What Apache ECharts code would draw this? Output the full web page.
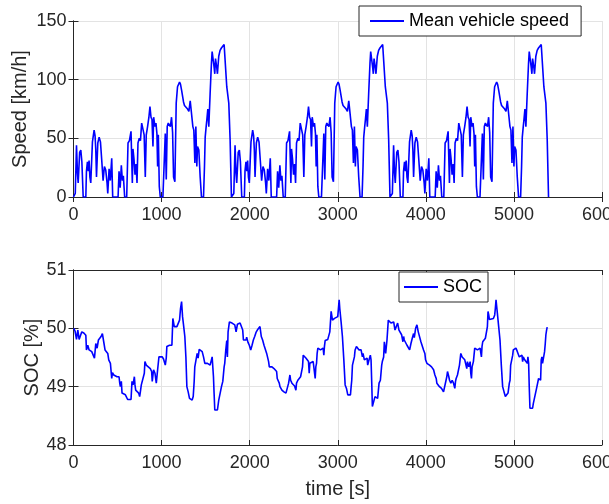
<!DOCTYPE html>
<html>
<head>
<meta charset="utf-8">
<script src="https://cdn.jsdelivr.net/npm/echarts@6/dist/echarts.min.js"></script>
<style>
html,body{margin:0;padding:0;background:#fff;}
#chart{width:609px;height:504px;}
</style>
</head>
<body>
<div id="chart"></div>
<script>
// ---- Data ----
const xTicks = [0, 1000, 2000, 3000, 4000, 5000, 6000];
const speedTicks = [0, 50, 100, 150];
const socTicks = [48, 49, 50, 51];

// Mean vehicle speed [km/h] : time [s]
const speedTime = [
0,20,34,45,53,70,83,95,110,140,147,158,168,177,186,196,215,234,245,253,261,276,291,306,320,336,351,366,381,389,404,418,434,445,506,517,530,543,555,566,581,604,619,635,653,668,675,687,698,710,721,732,747,760,774,789,802,815,826,841,856,868,880,891,902,910,925,936,947,955,963,974,985,1015,1042,1053,1064,1076,1090,1100,1113,1125,1136,1151,1166,1181,1204,1215,1227,1249,1260,1272,1295,1310,1325,1340,1355,1366,1378,1389,1400,1408,1423,1438,1453,1476,1487,1495,1506,1514,1525,1536,1551,1566,1574,1589,1597,1604,1612,1619,1627,1634,1649,1664,1679,1695,1710,1725,1740,1763,1778,1793,
1800,1820,1834,1845,1853,1870,1883,1895,1910,1940,1947,1958,1968,1977,1986,1996,2015,2034,2045,2053,2061,2076,2091,2106,2120,2136,2151,2166,2181,2189,2204,2218,2234,2245,2306,2317,2330,2343,2355,2366,2381,2404,2419,2435,2453,2468,2475,2487,2498,2510,2521,2532,2547,2560,2574,2589,2602,2615,2626,2641,2656,2668,2680,2691,2702,2710,2725,2736,2747,2755,2763,2774,2785,2815,2842,2853,2864,2876,2890,2900,2913,2925,2936,2951,2966,2981,3004,3015,3027,3049,3060,3072,3095,3110,3125,3140,3155,3166,3178,3189,3200,3208,3223,3238,3253,3276,3287,3295,3306,3314,3325,3336,3351,3366,3374,3389,3397,3404,3412,3419,3427,3434,3449,3464,3479,3495,3510,3525,3540,3563,3578,3593,
3600,3620,3634,3645,3653,3670,3683,3695,3710,3740,3747,3758,3768,3777,3786,3796,3815,3834,3845,3853,3861,3876,3891,3906,3920,3936,3951,3966,3981,3989,4004,4018,4034,4045,4106,4117,4130,4143,4155,4166,4181,4204,4219,4235,4253,4268,4275,4287,4298,4310,4321,4332,4347,4360,4374,4389,4402,4415,4426,4441,4456,4468,4480,4491,4502,4510,4525,4536,4547,4555,4563,4574,4585,4615,4642,4653,4664,4676,4690,4700,4713,4725,4736,4751,4766,4781,4804,4815,4827,4849,4860,4872,4895,4910,4925,4940,4955,4966,4978,4989,5000,5008,5023,5038,5053,5076,5087,5095,5106,5114,5125,5136,5151,5166,5174,5189,5197,5204,5212,5219,5227,5234,5249,5264,5279,5295,5310,5325,5340,5363,5378,5393
];
const speedValue = [
0,3,44,20,12,38,40,30,0,0,22,30,22,31,17,12,47,57,52,40,17,46,51,47,32,14,26,23,12,3,24,14,33,0,0,22,8,27,14,18,0,0,46,48,56,12,41,32,19,28,12,46,50,48,63,64,53,17,53,60,68,77,68,66,43,68,60,63,54,26,53,9,0,0,54,15,60,63,62,60,68,55,17,13,80,94,98,96,91,81,78,77,75,73,82,82,60,57,29,60,26,43,40,17,0,0,26,51,60,66,75,60,88,114,124,115,110,105,118,117,110,105,120,125,127,128,130,131,94,80,49,0,
0,3,44,20,12,38,40,30,0,0,22,30,22,31,17,12,47,57,52,40,17,46,51,47,32,14,26,23,12,3,24,14,33,0,0,22,8,27,14,18,0,0,46,48,56,12,41,32,19,28,12,46,50,48,63,64,53,17,53,60,68,77,68,66,43,68,60,63,54,26,53,9,0,0,54,15,60,63,62,60,68,55,17,13,80,94,98,96,91,81,78,77,75,73,82,82,60,57,29,60,26,43,40,17,0,0,26,51,60,66,75,60,88,114,124,115,110,105,118,117,110,105,120,125,127,128,130,131,94,80,49,0,
0,3,44,20,12,38,40,30,0,0,22,30,22,31,17,12,47,57,52,40,17,46,51,47,32,14,26,23,12,3,24,14,33,0,0,22,8,27,14,18,0,0,46,48,56,12,41,32,19,28,12,46,50,48,63,64,53,17,53,60,68,77,68,66,43,68,60,63,54,26,53,9,0,0,54,15,60,63,62,60,68,55,17,13,80,94,98,96,91,81,78,77,75,73,82,82,60,57,29,60,26,43,40,17,0,0,26,51,60,66,75,60,88,114,124,115,110,105,118,117,110,105,120,125,127,128,130,131,94,80,49,0
];

// SOC [%] : [time s, soc]
const socPoints = [
[4,50.0],[18,49.95],[34,49.81],[49,49.97],[64,49.81],[79,49.81],[94,49.94],[117,49.92],[140,49.88],[147,49.63],[162,49.71],[177,49.63],[192,49.66],[207,49.6],[223,49.57],[238,49.49],[253,49.74],[268,49.66],[283,49.8],[298,49.83],[313,49.86],[328,49.91],[343,49.77],[358,49.63],[374,49.6],[389,49.57],[400,49.46],[419,49.4],[434,49.14],[442,49.24],[457,49.2],[494,49.17],[517,49.17],[525,49.06],[532,49.0],[543,49.09],[551,48.89],[570,48.88],[589,48.86],[608,48.83],[615,48.78],[630,48.77],[653,48.78],[664,49.09],[676,49.03],[691,49.17],[698,49.03],[706,48.94],[721,48.91],[740,48.89],[751,48.83],[759,48.91],[770,49.03],[789,49.0],[804,49.23],[811,49.43],[826,49.37],[849,49.34],[872,49.31],[887,49.26],[894,49.09],[909,49.29],[925,49.23],[940,49.06],[955,49.29],[962,49.31],[970,49.51],[985,49.54],[1008,49.51],[1023,49.47],[1042,49.37],[1053,49.49],[1060,49.69],[1076,49.66],[1090,49.71],[1106,49.69],[1117,49.71],[1128,50.17],[1136,50.14],[1144,50.03],[1159,50.04],[1174,50.03],[1189,50.06],[1204,50.14],[1215,50.34],[1227,50.46],[1238,50.2],[1249,50.06],[1264,49.86],[1276,49.51],[1287,49.0],[1302,48.91],[1317,48.8],[1332,48.8],[1347,48.77],[1359,48.83],[1370,49.09],[1377,49.34],[1393,49.33],[1404,49.57],[1415,49.49],[1427,49.64],[1446,49.63],[1461,49.6],[1476,49.51],[1491,49.4],[1506,49.43],[1521,49.4],[1536,49.4],[1551,49.37],[1566,49.46],[1574,49.51],[1581,49.49],[1589,49.17],[1596,48.89],[1604,48.6],[1619,48.63],[1634,48.6],[1649,48.77],[1665,48.77],[1680,49.0],[1695,49.09],[1710,49.34],[1717,49.4],[1729,49.63],[1740,49.79],[1747,49.51],[1755,49.94],[1770,50.11],[1785,50.1],[1800,50.09],
[1815,50.11],[1831,50.06],[1846,49.94],[1861,50.07],[1876,50.04],[1891,50.09],[1906,50.07],[1921,49.97],[1929,49.8],[1944,49.83],[1959,49.8],[1966,49.85],[1981,49.76],[1996,49.71],[2012,49.63],[2027,49.71],[2042,49.8],[2057,49.86],[2072,49.93],[2087,49.97],[2102,50.0],[2117,50.03],[2132,49.86],[2147,49.8],[2163,49.71],[2178,49.69],[2193,49.57],[2208,49.54],[2215,49.43],[2223,49.34],[2238,49.37],[2253,49.34],[2276,49.31],[2291,49.29],[2306,49.26],[2313,49.14],[2329,49.11],[2336,49.06],[2344,49.0],[2366,48.94],[2389,48.91],[2412,48.89],[2434,48.9],[2442,49.06],[2457,49.2],[2465,49.11],[2472,49.14],[2480,49.06],[2495,49.03],[2510,49.01],[2525,48.94],[2532,49.06],[2547,49.11],[2563,49.14],[2578,49.17],[2585,49.2],[2593,49.17],[2600,49.34],[2608,49.54],[2623,49.51],[2638,49.49],[2653,49.46],[2668,49.43],[2676,49.23],[2683,49.4],[2698,49.37],[2721,49.43],[2736,49.4],[2744,49.14],[2751,49.34],[2759,49.4],[2766,49.57],[2774,49.66],[2789,49.66],[2804,49.63],[2819,49.63],[2834,49.66],[2842,49.54],[2849,49.69],[2857,49.79],[2872,49.8],[2887,49.81],[2895,49.83],[2910,49.94],[2925,50.29],[2940,50.14],[2963,50.17],[2985,50.17],[3000,50.2],[3016,50.49],[3023,50.34],[3038,50.11],[3053,49.86],[3069,49.46],[3084,49.03],[3099,48.97],[3114,48.86],[3129,48.83],[3144,48.86],[3152,49.0],[3159,49.11],[3167,49.37],[3182,49.4],[3189,49.51],[3197,49.63],[3212,49.69],[3227,49.66],[3242,49.63],[3265,49.63],[3280,49.51],[3287,49.57],[3302,49.46],[3317,49.46],[3333,49.49],[3340,49.37],[3355,49.46],[3370,49.54],[3378,49.46],[3386,49.06],[3393,48.66],[3408,48.66],[3423,48.83],[3438,48.83],[3453,48.8],[3469,49.06],[3484,49.11],[3499,49.37],[3506,49.43],[3521,49.51],[3529,49.77],[3544,49.57],[3559,49.8],[3574,50.14],[3589,50.11],[3604,50.09],
[3620,50.11],[3635,50.11],[3650,49.97],[3665,49.94],[3680,50.09],[3695,49.97],[3710,49.94],[3725,49.89],[3740,49.77],[3748,49.86],[3755,49.8],[3770,49.77],[3786,49.71],[3801,49.69],[3816,49.63],[3831,49.74],[3846,49.83],[3861,49.91],[3869,49.84],[3884,50.0],[3899,50.06],[3914,49.94],[3929,49.91],[3944,49.77],[3959,49.74],[3974,49.63],[3989,49.57],[3997,49.46],[4012,49.4],[4020,49.37],[4042,49.37],[4065,49.34],[4088,49.29],[4103,49.2],[4118,49.14],[4125,49.06],[4140,49.03],[4155,49.0],[4178,48.97],[4201,48.91],[4223,48.94],[4238,49.17],[4246,49.26],[4261,49.17],[4269,49.11],[4284,49.06],[4299,49.11],[4314,49.06],[4329,48.97],[4337,49.09],[4344,49.14],[4359,49.2],[4374,49.23],[4382,49.37],[4397,49.57],[4412,49.51],[4427,49.49],[4442,49.46],[4457,49.43],[4465,49.31],[4472,49.43],[4488,49.34],[4503,49.43],[4510,49.23],[4518,49.14],[4525,49.34],[4540,49.43],[4555,49.66],[4570,49.69],[4586,49.63],[4601,49.63],[4616,49.66],[4631,49.51],[4638,49.69],[4646,49.77],[4661,49.8],[4676,49.83],[4691,49.83],[4699,50.03],[4706,50.29],[4714,50.23],[4722,50.15],[4744,50.17],[4767,50.17],[4782,50.23],[4789,50.34],[4797,50.49],[4812,50.26],[4827,50.03],[4842,49.8],[4857,49.37],[4872,49.0],[4888,48.91],[4903,48.83],[4918,48.83],[4933,48.89],[4948,49.06],[4956,49.11],[4963,49.37],[4978,49.4],[4986,49.54],[4993,49.63],[5008,49.66],[5023,49.66],[5039,49.6],[5046,49.63],[5061,49.51],[5076,49.49],[5091,49.54],[5099,49.43],[5106,49.51],[5122,49.46],[5137,49.43],[5152,49.4],[5159,49.51],[5167,49.4],[5174,49.0],[5182,48.63],[5197,48.6],[5212,48.63],[5220,48.71],[5235,48.74],[5242,48.74],[5257,48.97],[5272,49.0],[5280,49.14],[5295,49.14],[5303,49.11],[5310,49.46],[5318,49.51],[5325,49.4],[5340,49.43],[5348,49.6],[5356,49.74],[5363,49.89],[5371,49.97],[5378,50.02]
];

// ---- Chart ----
const FONT = '"Liberation Sans", Arial, Helvetica, sans-serif';
const AX = '#262626';
const GRIDC = '#e3e3e3';
const LINE_BLUE = '#0000ff';
const chart = echarts.init(document.getElementById('chart'), null, {renderer: 'canvas'});
const plain = v => String(v);

function xAxisMain(gi, showName) {
  return {
    type: 'value', gridIndex: gi, position: 'bottom',
    min: xTicks[0], max: xTicks[xTicks.length - 1], interval: xTicks[1] - xTicks[0],
    axisLine: {show: true, lineStyle: {color: AX, width: 1}},
    axisTick: {show: true, inside: true, length: 5, lineStyle: {color: AX}},
    axisLabel: {color: AX, fontSize: 18, fontFamily: FONT, margin: 9, formatter: plain,
                align: 'center',
                showMaxLabel: true, showMinLabel: true, hideOverlap: false,
                alignMinLabel: 'center', alignMaxLabel: 'center'},
    splitLine: {show: true, lineStyle: {color: GRIDC, width: 1}},
    name: showName ? 'time [s]' : '', nameLocation: 'middle', nameGap: 34, nameMoveOverlap: false,
    nameTextStyle: {color: AX, fontSize: 20, fontFamily: FONT}
  };
}
function xAxisTop(gi) {
  return {
    type: 'value', gridIndex: gi, position: 'top',
    min: xTicks[0], max: xTicks[xTicks.length - 1], interval: xTicks[1] - xTicks[0],
    axisLine: {show: true, lineStyle: {color: AX, width: 1}},
    axisTick: {show: true, inside: true, length: 5, lineStyle: {color: AX}},
    axisLabel: {show: false}, splitLine: {show: false}
  };
}
function yAxisMain(gi, ticks, name, gap) {
  return {
    type: 'value', gridIndex: gi, position: 'left',
    min: ticks[0], max: ticks[ticks.length - 1], interval: ticks[1] - ticks[0],
    axisLine: {show: true, lineStyle: {color: AX, width: 1}},
    axisTick: {show: true, inside: true, length: 5, lineStyle: {color: AX}},
    axisLabel: {color: AX, fontSize: 18, fontFamily: FONT, margin: 7, formatter: plain},
    splitLine: {show: true, lineStyle: {color: GRIDC, width: 1}},
    name: name, nameLocation: 'middle', nameGap: gap, nameRotate: 90, nameMoveOverlap: false,
    nameTextStyle: {color: AX, fontSize: 20, fontFamily: FONT}
  };
}
function yAxisRight(gi, ticks) {
  return {
    type: 'value', gridIndex: gi, position: 'right',
    min: ticks[0], max: ticks[ticks.length - 1], interval: ticks[1] - ticks[0],
    axisLine: {show: true, lineStyle: {color: AX, width: 1}},
    axisTick: {show: true, inside: true, length: 5, lineStyle: {color: AX}},
    axisLabel: {show: false}, splitLine: {show: false}
  };
}

const legendCommon = {
  orient: 'horizontal', backgroundColor: '#ffffff', borderColor: AX, borderWidth: 1,
  itemWidth: 34, itemHeight: 2, itemGap: 0, icon: 'rect',
  textStyle: {color: '#000', fontSize: 18, fontFamily: FONT}
};

const option = {
  animation: false,
  backgroundColor: '#ffffff',
  grid: [
    {left: 73.5, right: 7, top: 21, height: 176, containLabel: false, outerBoundsMode: 'none'},
    {left: 73.5, right: 7, top: 270, height: 175, containLabel: false, outerBoundsMode: 'none'}
  ],
  xAxis: [xAxisMain(0, false), xAxisMain(1, true), xAxisTop(0), xAxisTop(1)],
  yAxis: [yAxisMain(0, speedTicks, 'Speed [km/h]', 43), yAxisMain(1, socTicks, 'SOC [%]', 31),
          yAxisRight(0, speedTicks), yAxisRight(1, socTicks)],
  legend: [
    Object.assign({}, legendCommon, {data: [{name: 'Mean vehicle speed', icon: 'rect'}], left: 359, top: 6, padding: [6, 12, 6, 11]}),
    Object.assign({}, legendCommon, {data: [{name: 'SOC', icon: 'rect'}], left: 399, top: 272, padding: [6, 6, 6, 5]})
  ],
  series: [
    {
      name: 'Mean vehicle speed', type: 'line', xAxisIndex: 0, yAxisIndex: 0,
      data: speedTime.map((t, i) => [t, speedValue[i]]),
      symbol: 'none', showSymbol: false,
      lineStyle: {color: LINE_BLUE, width: 1.6}, itemStyle: {color: LINE_BLUE}
    },
    {
      name: 'SOC', type: 'line', xAxisIndex: 1, yAxisIndex: 1,
      data: socPoints,
      symbol: 'none', showSymbol: false,
      lineStyle: {color: LINE_BLUE, width: 1.6}, itemStyle: {color: LINE_BLUE}
    }
  ]
};
chart.setOption(option);
</script>
</body>
</html>
